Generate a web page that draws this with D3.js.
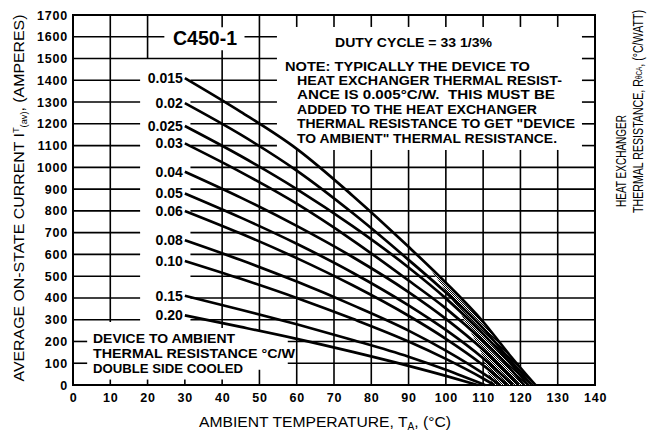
<!DOCTYPE html>
<html>
<head>
<meta charset="utf-8">
<script src="https://cdn.jsdelivr.net/npm/d3@7"></script>
<style>
  body { margin: 0; background: #fff; }
  text { font-family: "Liberation Sans", Arial, sans-serif; }
</style>
</head>
<body>
<div id="chart"></div>
<script>
// axis ticks
const tempTicks = [0, 10, 20, 30, 40, 50, 60, 70, 80, 90, 100, 110, 120, 130, 140];
const currentTicks = [0, 100, 200, 300, 400, 500, 600, 700, 800, 900, 1000,
  1100, 1200, 1300, 1400, 1500, 1600, 1700];

// device to ambient thermal resistance (°C/W), one label per curve
const resistanceLabels = ["0.015", "0.02", "0.025", "0.03", "0.04", "0.05",
  "0.06", "0.08", "0.10", "0.15", "0.20"];

// [ambient temp °C, average current A]
const r015 = [[30, 1410], [45, 1255], [60, 1085], [75, 870], [90, 635], [100, 470], [110, 290], [117, 140], [124, 0]];
const r020 = [[30, 1295], [45, 1150], [60, 985], [75, 790], [90, 575], [100, 425], [110, 260], [117, 120], [123, 0]];
const r025 = [[30, 1190], [45, 1052], [60, 900], [75, 730], [90, 540], [100, 398], [110, 235], [117, 105], [122, 0]];
const r030 = [[30, 1110], [45, 978], [60, 833], [75, 665], [90, 480], [100, 352], [110, 202], [116, 100], [121, 0]];
const r040 = [[30, 980], [45, 861], [60, 731], [75, 588], [90, 427], [100, 304], [110, 162], [119.5, 0]];
const r050 = [[30, 880], [45, 769], [60, 649], [75, 516], [90, 366], [100, 253], [110, 123], [118, 0]];
const r060 = [[30, 800], [45, 696], [60, 583], [75, 458], [90, 318], [100, 212], [110, 91], [116.5, 0]];
const r080 = [[30, 665], [45, 574], [60, 475], [75, 367], [90, 250], [100, 158], [110, 53], [114.5, 0]];
const r100 = [[30, 570], [45, 488], [60, 400], [75, 304], [90, 200], [100, 120], [110, 30], [113, 0]];
const r150 = [[30, 410], [45, 346], [60, 279], [75, 207], [90, 130], [100, 70], [110.5, 0]];
const r200 = [[30, 320], [45, 267], [60, 212], [75, 152], [90, 88], [100, 42], [108.5, 0]];

// stippled zone where the curves run together
const shadeOutline = [[95, 552], [100, 470], [110, 290], [117, 140], [124, 0], [112.5, 0], [109, 170], [103, 360]];

const noteLines = [
  "NOTE: TYPICALLY THE DEVICE TO",
  "HEAT EXCHANGER THERMAL RESIST-",
  "ANCE IS 0.005°C/W.  THIS MUST BE",
  "ADDED TO THE HEAT EXCHANGER",
  "THERMAL RESISTANCE TO GET \"DEVICE",
  "TO AMBIENT\" THERMAL RESISTANCE."
];
const boxLines = ["DEVICE TO AMBIENT", "THERMAL RESISTANCE °C/W", "DOUBLE SIDE COOLED"];

class DeratingChart {
  constructor(_config, _data) {
    this.config = {
      parentElement: _config.parentElement,
      containerWidth: 647,
      containerHeight: 435,
      margin: { top: 15, right: 52, bottom: 50, left: 73 },
    };
    this.data = _data;
    this.initVis();
  }

  initVis() {
    const vis = this;
    vis.width = vis.config.containerWidth - vis.config.margin.left - vis.config.margin.right;
    vis.height = vis.config.containerHeight - vis.config.margin.top - vis.config.margin.bottom;

    vis.x = d3.scaleLinear().domain([0, 140]).range([0, vis.width]);
    vis.y = d3.scaleLinear().domain([0, 1700]).range([vis.height, 0]);

    vis.svg = d3.select(vis.config.parentElement).append("svg")
        .attr("width", vis.config.containerWidth)
        .attr("height", vis.config.containerHeight);

    // checker pattern for the stippled zone
    const pat = vis.svg.append("defs").append("pattern")
        .attr("id", "stipple")
        .attr("patternUnits", "userSpaceOnUse")
        .attr("width", 2).attr("height", 2);
    pat.append("rect").attr("width", 2).attr("height", 2).attr("fill", "#fff");
    pat.append("rect").attr("width", 1).attr("height", 1).attr("fill", "#000");
    pat.append("rect").attr("x", 1).attr("y", 1).attr("width", 1).attr("height", 1).attr("fill", "#000");

    vis.chart = vis.svg.append("g")
        .attr("transform", `translate(${vis.config.margin.left},${vis.config.margin.top})`);

    vis.renderGrid();
    vis.renderAxes();
    vis.renderVis();
    vis.renderNotes();
  }

  renderGrid() {
    const vis = this;
    // vertical grid pieces [temp, from current, to current], broken round the texts
    const vSegs = [
      [10, 290, 1700], [10, 0, 25],
      [20, 1500, 1700], [20, 0, 25],
      [30, 0, 25],
      [40, 1644, 1700], [40, 262, 1538], [40, 0, 25],
      [50, 250, 1700], [50, 0, 70],
    ];
    [60, 70, 80, 90, 100, 110, 120, 130].forEach((t) => {
      vSegs.push([t, 1645, 1700]);
      vSegs.push([t, 0, 1080]);
    });

    // horizontal grid pieces [current, from temp, to temp]
    const hSegs = [
      [1600, 0, 24.5], [1600, 46, 54.7], [1600, 136.5, 140],
      [1500, 0, 54.7], [1500, 136.5, 140],
    ];
    [1400, 1300, 1200, 1100].forEach((c) => {
      hSegs.push([c, 0, 18], [c, 31.5, 54.7], [c, 136.5, 140]);
    });
    [1000, 900, 800, 700, 600, 500, 400, 300].forEach((c) => {
      hSegs.push([c, 0, 18], [c, 31.5, 140]);
    });
    [200, 100].forEach((c) => {
      hSegs.push([c, 0, 3.8], [c, 57.6, 140]);
    });

    vis.chart.append("g").selectAll("line").data(vSegs).join("line")
        .attr("x1", (d) => vis.x(d[0])).attr("x2", (d) => vis.x(d[0]))
        .attr("y1", (d) => vis.y(d[1])).attr("y2", (d) => vis.y(d[2]))
        .attr("stroke", "#000").attr("stroke-width", 1.6);

    vis.chart.append("g").selectAll("line").data(hSegs).join("line")
        .attr("x1", (d) => vis.x(d[1])).attr("x2", (d) => vis.x(d[2]))
        .attr("y1", (d) => vis.y(d[0])).attr("y2", (d) => vis.y(d[0]))
        .attr("stroke", "#000").attr("stroke-width", 1.6);

    vis.chart.append("rect")
        .attr("width", vis.width).attr("height", vis.height)
        .attr("fill", "none").attr("stroke", "#000").attr("stroke-width", 2);
  }

  renderAxes() {
    const vis = this;
    const xAxis = vis.chart.append("g")
        .attr("transform", `translate(0,${vis.height})`)
        .call(d3.axisBottom(vis.x).tickValues(tempTicks).tickSize(0).tickPadding(8)
            .tickFormat(d3.format("d")));
    const yAxis = vis.chart.append("g")
        .call(d3.axisLeft(vis.y).tickValues(currentTicks).tickSize(0).tickPadding(5)
            .tickFormat(d3.format("d")));

    [xAxis, yAxis].forEach((g) => {
      g.select(".domain").remove();
      g.attr("font-family", "Liberation Sans, Arial, sans-serif")
          .attr("font-size", 12.5)
          .attr("font-weight", "bold");
      g.selectAll("text").style("letter-spacing", "0.8px").attr("fill", "#000");
    });

    // x title
    const xt = vis.svg.append("text")
        .attr("x", 325).attr("y", 427)
        .attr("text-anchor", "middle")
        .attr("font-size", 15.5)
        .attr("textLength", 252).attr("lengthAdjust", "spacingAndGlyphs");
    xt.append("tspan").text("AMBIENT TEMPERATURE, T");
    xt.append("tspan").attr("font-size", 10).attr("dy", 3).text("A");
    xt.append("tspan").attr("dy", -3).text(", (°C)");

    // y title
    const yt = vis.svg.append("text")
        .attr("transform", "translate(24,198) rotate(-90)")
        .attr("text-anchor", "middle")
        .attr("font-size", 15.5)
        .attr("textLength", 367).attr("lengthAdjust", "spacingAndGlyphs");
    yt.append("tspan").text("AVERAGE ON-STATE CURRENT I");
    yt.append("tspan").attr("font-size", 9).attr("dy", -5).text("T");
    yt.append("tspan").attr("font-size", 9).attr("dy", 8).text("(av)");
    yt.append("tspan").attr("dy", -3).text(", (AMPERES)");

    // right hand title, two rotated lines squeezed along the text direction
    vis.svg.append("text")
        .attr("transform", "translate(621,207) rotate(-90) scale(0.68,1)")
        .attr("dominant-baseline", "central")
        .attr("font-size", 15)
        .attr("textLength", 92 / 0.68).attr("lengthAdjust", "spacingAndGlyphs")
        .text("HEAT EXCHANGER");
    const rt = vis.svg.append("text")
        .attr("transform", "translate(637,213) rotate(-90) scale(0.7,1)")
        .attr("dominant-baseline", "central")
        .attr("font-size", 15)
        .attr("textLength", 203 / 0.7).attr("lengthAdjust", "spacingAndGlyphs");
    rt.append("tspan").text("THERMAL RESISTANCE, R");
    rt.append("tspan").attr("font-size", 9).attr("dy", 2).text("θCA");
    rt.append("tspan").attr("dy", -2).text(", (°C/WATT)");
  }

  renderVis() {
    const vis = this;

    const outline = d3.line().x((d) => vis.x(d[0])).y((d) => vis.y(d[1]));
    vis.chart.append("path")
        .attr("d", outline(shadeOutline) + "Z")
        .attr("fill", "url(#stipple)");

    const curve = d3.line()
        .curve(d3.curveMonotoneX)
        .x((d) => vis.x(d[0]))
        .y((d) => vis.y(d[1]));

    const series = vis.chart.selectAll("g.series")
        .data(vis.data)
        .join("g")
        .attr("class", "series");

    series.append("path")
        .attr("d", (d) => curve(d.points))
        .attr("fill", "none")
        .attr("stroke", "#000")
        .attr("stroke-width", 2.7);

    series.append("text")
        .attr("x", (d) => vis.x(d.points[0][0]) - 2)
        .attr("y", (d) => vis.y(d.points[0][1]))
        .attr("text-anchor", "end")
        .attr("dominant-baseline", "central")
        .attr("font-size", 14)
        .attr("font-weight", "bold")
        .text((d) => d.label);
  }

  renderNotes() {
    const vis = this;

    vis.svg.append("text")
        .attr("x", 173).attr("y", 45)
        .attr("font-size", 20).attr("font-weight", "bold")
        .attr("textLength", 64).attr("lengthAdjust", "spacingAndGlyphs")
        .text("C450-1");

    vis.svg.append("text")
        .attr("x", 335).attr("y", 47)
        .attr("font-size", 13.5).attr("font-weight", "bold")
        .attr("textLength", 157).attr("lengthAdjust", "spacingAndGlyphs")
        .text("DUTY CYCLE = 33 1/3%");

    const noteWidths = [245, 265, 258, 240, 278, 260];
    vis.svg.append("g").selectAll("text").data(noteLines).join("text")
        .attr("x", (d, i) => (i === 0 ? 285 : 297))
        .attr("y", (d, i) => 70.5 + i * 14.4)
        .attr("font-size", 13.5).attr("font-weight", "bold")
        .attr("textLength", (d, i) => noteWidths[i])
        .attr("lengthAdjust", "spacingAndGlyphs")
        .style("white-space", "pre")
        .text((d) => d);

    const boxWidths = [142, 202, 150];
    vis.svg.append("g").selectAll("text").data(boxLines).join("text")
        .attr("x", 93)
        .attr("y", (d, i) => 342.5 + i * 15.2)
        .attr("font-size", 13.5).attr("font-weight", "bold")
        .attr("textLength", (d, i) => boxWidths[i])
        .attr("lengthAdjust", "spacingAndGlyphs")
        .text((d) => d);
  }
}

const curveData = [r015, r020, r025, r030, r040, r050, r060, r080, r100, r150, r200]
    .map((points, i) => ({ label: resistanceLabels[i], points: points }));

new DeratingChart({ parentElement: "#chart" }, curveData);
</script>
</body>
</html>
